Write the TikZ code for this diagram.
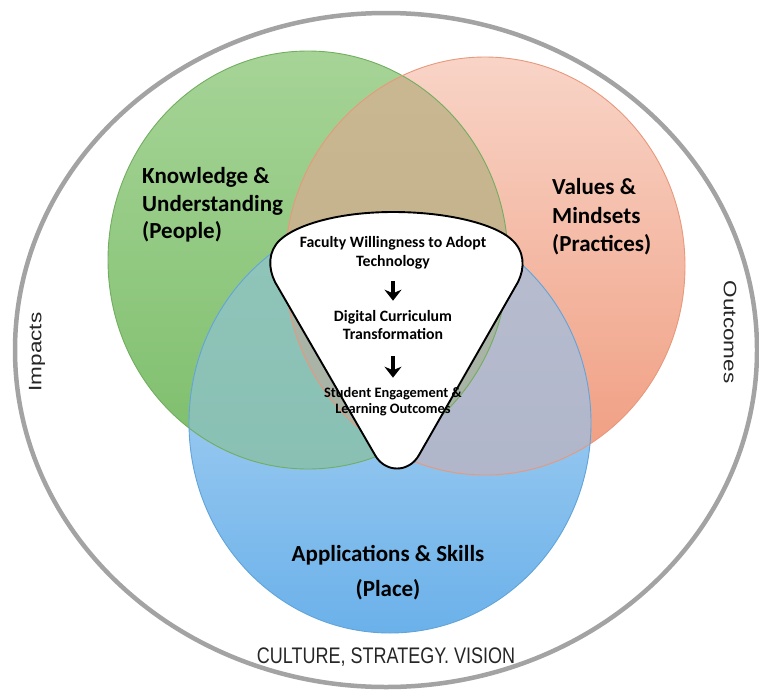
\documentclass[tikz,border=0pt]{standalone}
\usepackage{fontspec}
\setmainfont{Carlito}
\newfontfamily\plainsans{Liberation Sans}
\usetikzlibrary{arrows.meta}

% circle fills (top / bottom of each gradient) and outlines
\definecolor{greenTop}{HTML}{A6D497}
\definecolor{greenBot}{HTML}{7DBE6B}
\definecolor{greenLine}{HTML}{72AD60}
\definecolor{redTop}{HTML}{F8D4C7}
\definecolor{redBot}{HTML}{F09C7F}
\definecolor{redLine}{HTML}{E8987B}
\definecolor{blueTop}{HTML}{BEDDF5}
\definecolor{blueBot}{HTML}{6BB1EA}
\definecolor{blueLine}{HTML}{62A4D9}
% overlap tints
\definecolor{grTop}{HTML}{CAB893}
\definecolor{grBot}{HTML}{BFAD87}
\definecolor{gbTop}{HTML}{90C5BA}
\definecolor{gbBot}{HTML}{85BDB0}
\definecolor{rbTop}{HTML}{B8BDCF}
\definecolor{rbBot}{HTML}{ACB2C8}
\definecolor{allTint}{HTML}{A9B3A6}
\definecolor{frameGray}{HTML}{A3A3A3}

\tikzset{
  biglabel/.style={font=\fontsize{23}{28}\selectfont\bfseries, inner sep=0pt},
  coretext/.style={font=\fontsize{15.8}{18}\selectfont\bfseries, inner sep=0pt},
  coresmall/.style={font=\fontsize{14.4}{17}\selectfont\bfseries, inner sep=0pt},
  ringtext/.style={font=\plainsans\fontsize{18}{20}\selectfont, inner sep=0pt, text=black!85},
  flowarrow/.style={line width=3.6pt, -{Stealth[length=11pt,width=17pt,inset=3.5pt]}},
}

% the three sets
\def\greenset{(308,260) ellipse [x radius=200pt, y radius=209pt]}
\def\redset{(485,266) ellipse [x radius=200pt, y radius=209pt]}
\def\blueset{(390,423) ellipse [x radius=201pt, y radius=210pt]}

\begin{document}
\begin{tikzpicture}[x=1pt,y=-1pt]
\useasboundingbox (0,0) rectangle (759,696);
\fill[white] (0,0) rectangle (759,696);

% outer ring
\draw[frameGray, line width=4.5pt] (386,350) ellipse [x radius=371pt, y radius=337pt];

% base circles
\shade[top color=greenTop, bottom color=greenBot] \greenset;
\shade[top color=redTop, bottom color=redBot] \redset;
\shade[top color=blueTop, bottom color=blueBot] \blueset;

% pairwise overlaps
\begin{scope}
  \clip \greenset;
  \shade[top color=grTop, bottom color=grBot] \redset;
\end{scope}
\begin{scope}
  \clip \greenset;
  \shade[top color=gbTop, bottom color=gbBot] \blueset;
\end{scope}
\begin{scope}
  \clip \redset;
  \shade[top color=rbTop, bottom color=rbBot] \blueset;
\end{scope}
\begin{scope}
  \clip \greenset;
  \clip \redset;
  \fill[allTint] \blueset;
\end{scope}

% outlines
\draw[greenLine, line width=0.9pt] \greenset;
\draw[redLine, line width=0.9pt] \redset;
\draw[blueLine, line width=0.9pt] \blueset;

% central pick shape
\draw[black, line width=1.9pt, fill=white]
  (393,212) .. controls (448,212) and (494,224) .. (511,239)
  .. controls (525,251) and (525,268) .. (518,282)
  -- (419,455) .. controls (409,473) and (385,473) .. (375,455)
  -- (275,282) .. controls (268,268) and (268,251) .. (280,240)
  .. controls (296,225) and (338,212) .. (393,212) -- cycle;

% core texts
\node[coretext, anchor=base] (fac1) at (393,247) {Faculty Willingness to Adopt};
\node[coretext, anchor=base] (fac2) at (393,266) {Technology};
\node[coretext, anchor=base] (dig1) at (393,321) {Digital Curriculum};
\node[coretext, anchor=base] (dig2) at (393,339) {Transformation};
\node[coresmall, anchor=base] (stu1) at (393,397) {Student Engagement \&};
\node[coresmall, anchor=base] (stu2) at (393,413) {Learning Outcomes};

\draw[flowarrow, shorten <=12pt, shorten >=9pt] (fac2.south) -- (dig1.north);
\draw[flowarrow, shorten <=17pt, shorten >=9pt] (dig2.south) -- (stu1.north);

% circle labels
\node[biglabel, anchor=base west] (know1) at (142,183) {Knowledge \&};
\node[biglabel, anchor=base west] (know2) at (142,211) {Understanding};
\node[biglabel, anchor=base west] (know3) at (142,238) {(People)};
\node[biglabel, anchor=base west] (val1) at (552,194) {Values \&};
\node[biglabel, anchor=base west] (val2) at (552,223) {Mindsets};
\node[biglabel, anchor=base west] (val3) at (552,251) {(Practices)};
\node[biglabel, anchor=base] (app1) at (388,561) {Applications \& Skills};
\node[biglabel, anchor=base] (app2) at (388,596) {(Place)};

% ring labels
\node[ringtext, anchor=base] (culture) at (386,663) {\scalebox{1}[1.25]{CULTURE, STRATEGY. VISION}};
\node[ringtext, rotate=90] (impacts) at (37,352) {\scalebox{1.25}[1]{Impacts}};
\node[ringtext, rotate=-90] (outcomes) at (730,332) {\scalebox{1.25}[1]{Outcomes}};
\end{tikzpicture}
\end{document}
